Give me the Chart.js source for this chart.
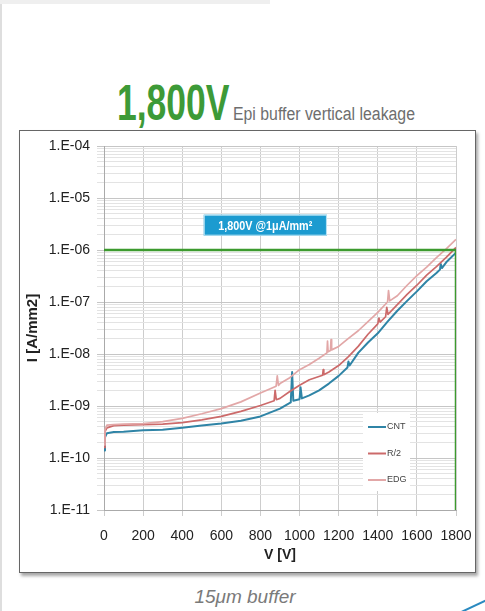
<!DOCTYPE html>
<html lang="en">
<head>
    <meta charset="UTF-8">
    <title>1,800V Epi buffer vertical leakage</title>
    <script src="https://cdn.jsdelivr.net/npm/chart.js"></script>
    <style>
        body {
            margin: 0;
            width: 485px;
            height: 611px;
            background: #fff;
            font-family: "Liberation Sans", Arial, sans-serif;
            position: relative;
            overflow: hidden;
        }
        .topstrip {
            position: absolute; left: 0; top: 0; width: 270px; height: 4px; background: #efefef;
        }
        .leftstrip {
            position: absolute; left: 0; top: 4px; width: 2px; height: 607px; background: #dedede;
        }
        .big, .small {
            position: absolute; white-space: nowrap; line-height: 1; transform-origin: left top;
        }
        .big {
            left: 117px; top: 78px; color: #3d9a37; font-weight: bold; font-size: 50px;
            transform: scaleX(0.71);
        }
        .small {
            left: 233px; top: 105px; color: #6e6e6e; font-size: 18px;
            transform: scaleX(0.88);
        }
        .box {
            position: absolute; left: 19px; top: 130px; width: 455px; height: 441px;
            border: 1px solid #666; background: #fff;
            box-shadow: 2px 3px 3px rgba(0, 0, 0, 0.35);
        }
        .caption {
            position: absolute; left: 0; width: 490px; top: 586px; text-align: center;
            font-style: italic; font-size: 19px; color: #7a7a7a;
        }
        .swoosh {
            position: absolute; left: 452px; top: 606px; width: 40px; height: 2px;
            background: #2a8ac0; transform: rotate(-25deg);
        }
    </style>
</head>
<body>
    <div class="topstrip"></div>
    <div class="leftstrip"></div>
    <div class="big">1,800V</div>
    <div class="small">Epi buffer vertical leakage</div>
    <div class="box"><canvas id="leakChart"></canvas></div>
    <div class="caption">15μm buffer</div>
    <div class="swoosh"></div>

    <script>
        // CNT
        const cntV = [0, 5, 15, 50, 100, 200, 300, 400, 500, 600, 700, 800, 900, 955, 962, 968, 1000, 1005, 1012,
            1050, 1100, 1150, 1200, 1245, 1250, 1256, 1300, 1350, 1400, 1450, 1500, 1550, 1600, 1650, 1700,
            1718, 1722, 1728, 1750, 1800];
        const cntI = [1.4e-10, 2.5e-10, 3.0e-10, 3.16e-10, 3.2e-10, 3.4e-10, 3.5e-10, 3.8e-10, 4.2e-10, 4.6e-10,
            5.2e-10, 6.3e-10, 8.9e-10, 1.17e-9, 4.5e-9, 1.26e-9, 1.35e-9, 2.3e-9, 1.4e-9,
            1.6e-9, 2.0e-9, 2.7e-9, 3.8e-9, 5.5e-9, 7.2e-9, 6.0e-9, 1.05e-8, 1.66e-8, 2.5e-8, 4.2e-8, 6.8e-8,
            1.05e-7, 1.6e-7, 2.5e-7, 3.6e-7, 4.2e-7, 5.4e-7, 4.5e-7, 5.8e-7, 8.9e-7];

        // R/2
        const r2V = [0, 5, 15, 50, 100, 200, 300, 400, 500, 600, 700, 800, 870, 875, 881, 900, 950, 1000, 1050,
            1118, 1121, 1124, 1150, 1200, 1250, 1300, 1350, 1400, 1406, 1412, 1440, 1446, 1452, 1500, 1550,
            1600, 1650, 1700, 1750, 1800];
        const r2I = [1.6e-10, 3.2e-10, 3.8e-10, 4.2e-10, 4.3e-10, 4.4e-10, 4.5e-10, 4.8e-10, 5.4e-10, 6.3e-10,
            7.9e-10, 1.02e-9, 1.26e-9, 2.0e-9, 1.32e-9, 1.4e-9, 1.9e-9, 2.5e-9, 3.2e-9,
            3.9e-9, 5.0e-9, 4.0e-9, 4.5e-9, 6.0e-9, 8.9e-9, 1.4e-8, 2.4e-8, 3.8e-8, 4.9e-8, 4.1e-8,
            5.2e-8, 7.9e-8, 5.8e-8, 8.9e-8, 1.4e-7, 2.1e-7, 3.3e-7, 4.8e-7, 7.2e-7, 1.12e-6];

        // EDG
        const edgV = [0, 5, 15, 50, 100, 200, 300, 400, 500, 600, 700, 800, 880, 886, 892, 900, 950, 1000, 1050,
            1100, 1140, 1143, 1146, 1158, 1161, 1164, 1200, 1250, 1300, 1350, 1400, 1450, 1455, 1461, 1500,
            1550, 1600, 1650, 1700, 1750, 1800];
        const edgI = [1.78e-10, 3.5e-10, 4.3e-10, 4.4e-10, 4.5e-10, 4.6e-10, 5.0e-10, 5.8e-10, 7.1e-10, 8.9e-10,
            1.2e-9, 1.78e-9, 2.4e-9, 3.8e-9, 2.5e-9, 2.7e-9, 3.5e-9, 5.0e-9, 6.3e-9,
            8.3e-9, 1.05e-8, 1.78e-8, 1.1e-8, 1.17e-8, 1.9e-8, 1.2e-8, 1.4e-8, 2.0e-8, 2.8e-8, 4.2e-8, 6.3e-8,
            1.0e-7, 1.66e-7, 1.05e-7, 1.32e-7, 2.1e-7, 3.2e-7, 4.7e-7, 7.1e-7, 1.05e-6, 1.6e-6];

        // 1uA/mm2 criterion reached at 1,800 V
        const limitV = [0, 1800, 1800];
        const limitI = [1e-6, 1e-6, 1e-11];

        const xTicks = [0, 200, 400, 600, 800, 1000, 1200, 1400, 1600, 1800];
        const yDecades = [-11, -10, -9, -8, -7, -6, -5, -4];

        const toPoints = (xs, ys) => xs.map((v, i) => ({ x: v, y: ys[i] }));
        const isDecade = v => Math.abs(Math.log10(v) - Math.round(Math.log10(v))) < 1e-6;

        // callout box "1,800V @1uA/mm2"
        const calloutPlugin = {
            id: 'callout',
            afterDatasetsDraw(chart) {
                const { ctx, scales: { x, y } } = chart;
                const left = x.getPixelForValue(510), right = x.getPixelForValue(1140);
                const mid = y.getPixelForValue(3.0e-6);
                ctx.save();
                ctx.fillStyle = '#1c9bd0';
                ctx.strokeStyle = '#bfe6f5';
                ctx.lineWidth = 1;
                ctx.fillRect(left, mid - 10.5, right - left, 21);
                ctx.strokeRect(left + 0.5, mid - 10, right - left - 1, 20);
                ctx.fillStyle = '#fff';
                ctx.font = 'bold 12px "Liberation Sans", Arial';
                ctx.textAlign = 'center';
                ctx.textBaseline = 'middle';
                ctx.translate((left + right) / 2, mid + 1);
                ctx.scale(0.9, 1);
                ctx.fillText('1,800V @1μA/mm²', 0, 0);
                ctx.restore();
            }
        };

        // legend box inside the plot, CNT first
        const legendPlugin = {
            id: 'innerLegend',
            afterDatasetsDraw(chart) {
                const { ctx, chartArea } = chart;
                const sets = chart.data.datasets.filter(d => d.label).reverse();
                const bx = chartArea.right - 93, by = chartArea.top + 267;
                ctx.save();
                ctx.fillStyle = '#fff';
                ctx.fillRect(bx, by, 47, 78);
                ctx.font = '9px "Liberation Sans", Arial';
                ctx.textBaseline = 'middle';
                sets.forEach((d, i) => {
                    const ly = by + 14 + i * 26.5;
                    ctx.strokeStyle = d.borderColor;
                    ctx.lineWidth = 2;
                    ctx.beginPath();
                    ctx.moveTo(bx + 5, ly);
                    ctx.lineTo(bx + 23, ly);
                    ctx.stroke();
                    ctx.fillStyle = '#444';
                    ctx.fillText(d.label, bx + 24, ly);
                });
                ctx.restore();
            }
        };

        const ctx = document.getElementById('leakChart').getContext('2d');
        const leakChart = new Chart(ctx, {
            type: 'line',
            data: {
                datasets: [
                    {
                        data: toPoints(limitV, limitI),
                        borderColor: '#3c9a2e',
                        borderWidth: 2.5
                    },
                    {
                        label: 'EDG',
                        data: toPoints(edgV, edgI),
                        borderColor: '#e2a7a7',
                        borderWidth: 1.7
                    },
                    {
                        label: 'R/2',
                        data: toPoints(r2V, r2I),
                        borderColor: '#cc6a6a',
                        borderWidth: 1.7
                    },
                    {
                        label: 'CNT',
                        data: toPoints(cntV, cntI),
                        borderColor: '#2f84a6',
                        borderWidth: 2
                    }
                ]
            },
            options: {
                responsive: true,
                maintainAspectRatio: false,
                animation: false,
                parsing: false,
                elements: {
                    point: { radius: 0 },
                    line: { tension: 0, borderJoinStyle: 'round' }
                },
                layout: { padding: { left: 0, right: 19, top: 15, bottom: 0 } },
                plugins: {
                    legend: { display: false },
                    tooltip: { enabled: false }
                },
                scales: {
                    x: {
                        type: 'linear',
                        min: 0,
                        max: 1800,
                        afterBuildTicks: s => { s.ticks = xTicks.map(v => ({ value: v })); },
                        afterFit: s => {
                            s.height = 62;
                            s.paddingLeft = 0;
                            s.paddingRight = 0;
                        },
                        ticks: {
                            color: '#222',
                            font: { size: 14 },
                            padding: 12,
                            maxRotation: 0,
                            callback: v => String(v)
                        },
                        grid: { color: '#cdcdcd', tickLength: 6 },
                        border: { color: '#aaa' },
                        title: {
                            display: true,
                            text: 'V [V]',
                            color: '#222',
                            font: { size: 14, weight: 'bold' },
                            padding: { top: 0, bottom: 8 }
                        }
                    },
                    y: {
                        type: 'logarithmic',
                        min: 1e-11,
                        max: 1e-4,
                        afterBuildTicks: s => {
                            const t = [];
                            yDecades.forEach(e => {
                                for (let m = 1; m <= 9; m++) {
                                    if (e === -4 && m > 1) break;
                                    t.push({ value: m * Math.pow(10, e) });
                                }
                            });
                            s.ticks = t;
                        },
                        afterFit: s => {
                            s.width = 84;
                            s.paddingTop = 0;
                            s.paddingBottom = 0;
                        },
                        ticks: {
                            autoSkip: false,
                            color: '#222',
                            font: { size: 14 },
                            padding: 7,
                            callback: v => {
                                if (!isDecade(v)) return '';
                                const e = Math.round(Math.log10(v));
                                return '1.E-' + String(-e).padStart(2, '0');
                            }
                        },
                        grid: {
                            color: c => isDecade(c.tick.value) ? '#c6c6c6' : '#e3e3e3',
                            tickLength: 7,
                            drawTicks: true
                        },
                        border: { color: '#aaa' },
                        title: {
                            display: true,
                            text: 'I [A/mm2]',
                            color: '#222',
                            font: { size: 15, weight: 'bold' },
                            padding: { top: 4, bottom: 0 }
                        }
                    }
                }
            },
            plugins: [calloutPlugin, legendPlugin]
        });
    </script>
</body>
</html>
